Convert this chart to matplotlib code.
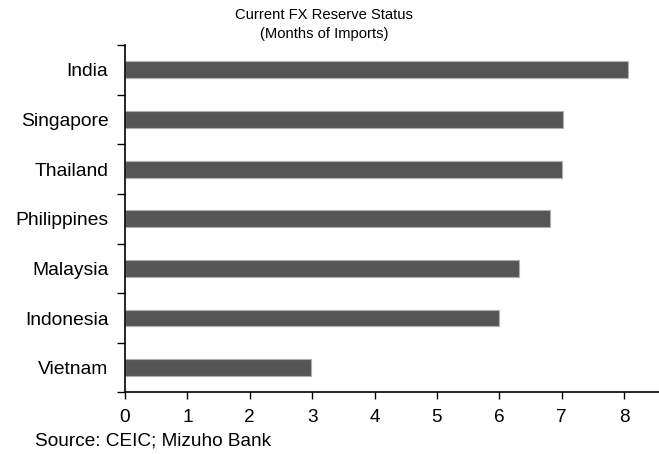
import matplotlib
matplotlib.use('Agg')
import matplotlib.pyplot as plt
import matplotlib.ticker as mticker

plt.rcParams['font.family'] = ['Liberation Sans', 'DejaVu Sans']

countries = ['India', 'Singapore', 'Thailand', 'Philippines', 'Malaysia', 'Indonesia', 'Vietnam']
months = [8.06, 7.02, 7.01, 6.82, 6.32, 5.99, 2.98]
xticks = [0, 1, 2, 3, 4, 5, 6, 7, 8]

fig = plt.figure(figsize=(6.59, 4.54), dpi=100)
ax = fig.add_axes([0.1897, 0.1355, 0.8103, 0.7654])

# 由上而下排列
ypos = list(range(len(countries)))[::-1]
ax.barh(ypos, months, height=0.34, color='#555555', edgecolor='#b0b0b0', linewidth=0.8)

ax.set_xlim(0, 8.56)
ax.set_ylim(-0.5, len(countries) - 0.5)
ax.set_xticks(xticks)
ax.set_xticklabels([str(t) for t in xticks])

# Y 軸：標籤置中、刻度在分類交界
ax.set_yticks(ypos)
ax.set_yticklabels(countries)
ax.yaxis.set_minor_locator(mticker.FixedLocator([i - 0.5 for i in range(len(countries) + 1)]))

ax.tick_params(axis='y', which='major', length=0, pad=12, labelsize=13.9)
ax.tick_params(axis='y', which='minor', length=6, width=1.0, color='black')
ax.tick_params(axis='x', which='major', length=5, width=1.0, pad=7, labelsize=13.7)

for side in ['top', 'right']:
    ax.spines[side].set_visible(False)
for side in ['left', 'bottom']:
    ax.spines[side].set_linewidth(1.2)
    ax.spines[side].set_color('black')

fig.text(324 / 659, 1 - 15 / 454, 'Current FX Reserve Status', ha='center', va='center', fontsize=10.6)
fig.text(324 / 659, 1 - 34 / 454, '(Months of Imports)', ha='center', va='center', fontsize=10.6)
fig.text(35 / 659, 1 - 441 / 454, 'Source: CEIC; Mizuho Bank', ha='left', va='center', fontsize=13.7)

fig.savefig('out.png', dpi=100)
